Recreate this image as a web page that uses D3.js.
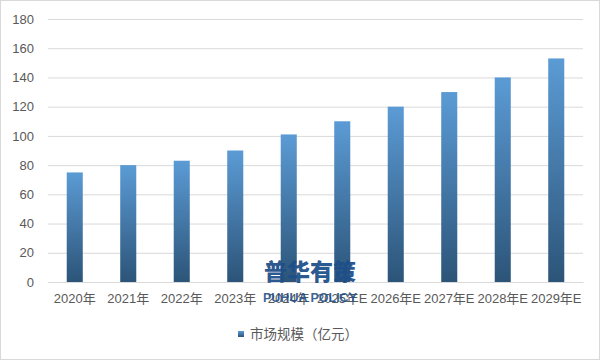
<!DOCTYPE html>
<html><head><meta charset="utf-8">
<script src="https://cdn.jsdelivr.net/npm/d3@7"></script>
<style>body{margin:0;background:#fff}svg{display:block}</style>
</head><body>
<script>
const categories = ["2020年","2021年","2022年","2023年","2024年","2025年E","2026年E","2027年E","2028年E","2029年E"];
const values = [75, 80, 83, 90, 101, 110, 120, 130, 140, 153];
const yTicks = [0,20,40,60,80,100,120,140,160,180];
const seriesName = "市场规模（亿元）";

const W = 601, H = 361;
const m = {left: 48, right: 18, top: 19, bottom: 79};
const svg = d3.select("body").append("svg").attr("width", W).attr("height", H);
const defs = svg.append("defs");
const g1 = defs.append("linearGradient").attr("id","bg").attr("x1",0).attr("y1",0).attr("x2",0).attr("y2",1);
g1.append("stop").attr("offset","0%").attr("stop-color","#5b9bd5");
g1.append("stop").attr("offset","100%").attr("stop-color","#2c5478");
const g2 = defs.append("linearGradient").attr("id","lg").attr("x1",0).attr("y1",0).attr("x2",0).attr("y2",1);
g2.append("stop").attr("offset","0%").attr("stop-color","#5b9bd5");
g2.append("stop").attr("offset","100%").attr("stop-color","#2c5478");

svg.append("rect").attr("x",0.5).attr("y",0.5).attr("width",W-2).attr("height",H-2)
  .attr("fill","#fff").attr("stroke","#d9d9d9");

const x = d3.scaleBand().domain(categories).range([m.left, W - m.right]).paddingInner(0.7).paddingOuter(0.35);
const y = d3.scaleLinear().domain([0,180]).range([H - m.bottom, m.top]);

const font = "'Liberation Sans','Noto Sans CJK SC',sans-serif";

// grid
const yAxis = d3.axisLeft(y).tickValues(yTicks).tickSize(-(W - m.right - m.left)).tickPadding(14);
const ya = svg.append("g").attr("transform",`translate(${m.left},0)`).call(yAxis);
ya.select(".domain").remove();
ya.selectAll(".tick line").attr("stroke","#d9d9d9");
ya.selectAll(".tick text").attr("fill","#595959").style("font-family",font).style("font-size","13px");

// bars
svg.append("g").selectAll("rect").data(values).join("rect")
  .attr("x",(d,i)=>x(categories[i]))
  .attr("y",d=>y(d))
  .attr("width",x.bandwidth())
  .attr("height",d=>y(0)-y(d))
  .attr("fill","url(#bg)");

// x axis
const xa = svg.append("g").attr("transform",`translate(0,${y(0)})`).call(d3.axisBottom(x).tickSize(0).tickPadding(12));
xa.select(".domain").attr("stroke","#d9d9d9");
xa.selectAll(".tick text").attr("fill","#595959").style("font-family",font).style("font-size","13px");

// watermark
svg.append("text").attr("x",310).attr("y",280).attr("text-anchor","middle")
  .style("font-family","'Noto Sans CJK SC',sans-serif").style("font-weight","900").style("font-size","23px")
  .attr("fill","#1d4f8a").attr("fill-opacity",0.95).text("普华有策");
svg.append("text").attr("x",310).attr("y",302).attr("text-anchor","middle")
  .style("font-family","'Liberation Sans',sans-serif").style("font-weight","bold").style("font-size","12.5px")
  .attr("fill","#1d4f8a").attr("fill-opacity",0.9).text("PUHUA POLICY");

// legend
const lg = svg.append("g");
lg.append("rect").attr("x",238).attr("y",331).attr("width",6).attr("height",6).attr("fill","url(#lg)");
lg.append("text").attr("x",250).attr("y",339).attr("fill","#595959")
  .style("font-family","'Noto Sans CJK SC',sans-serif").style("font-size","13.5px").text(seriesName);
</script>
</body></html>
